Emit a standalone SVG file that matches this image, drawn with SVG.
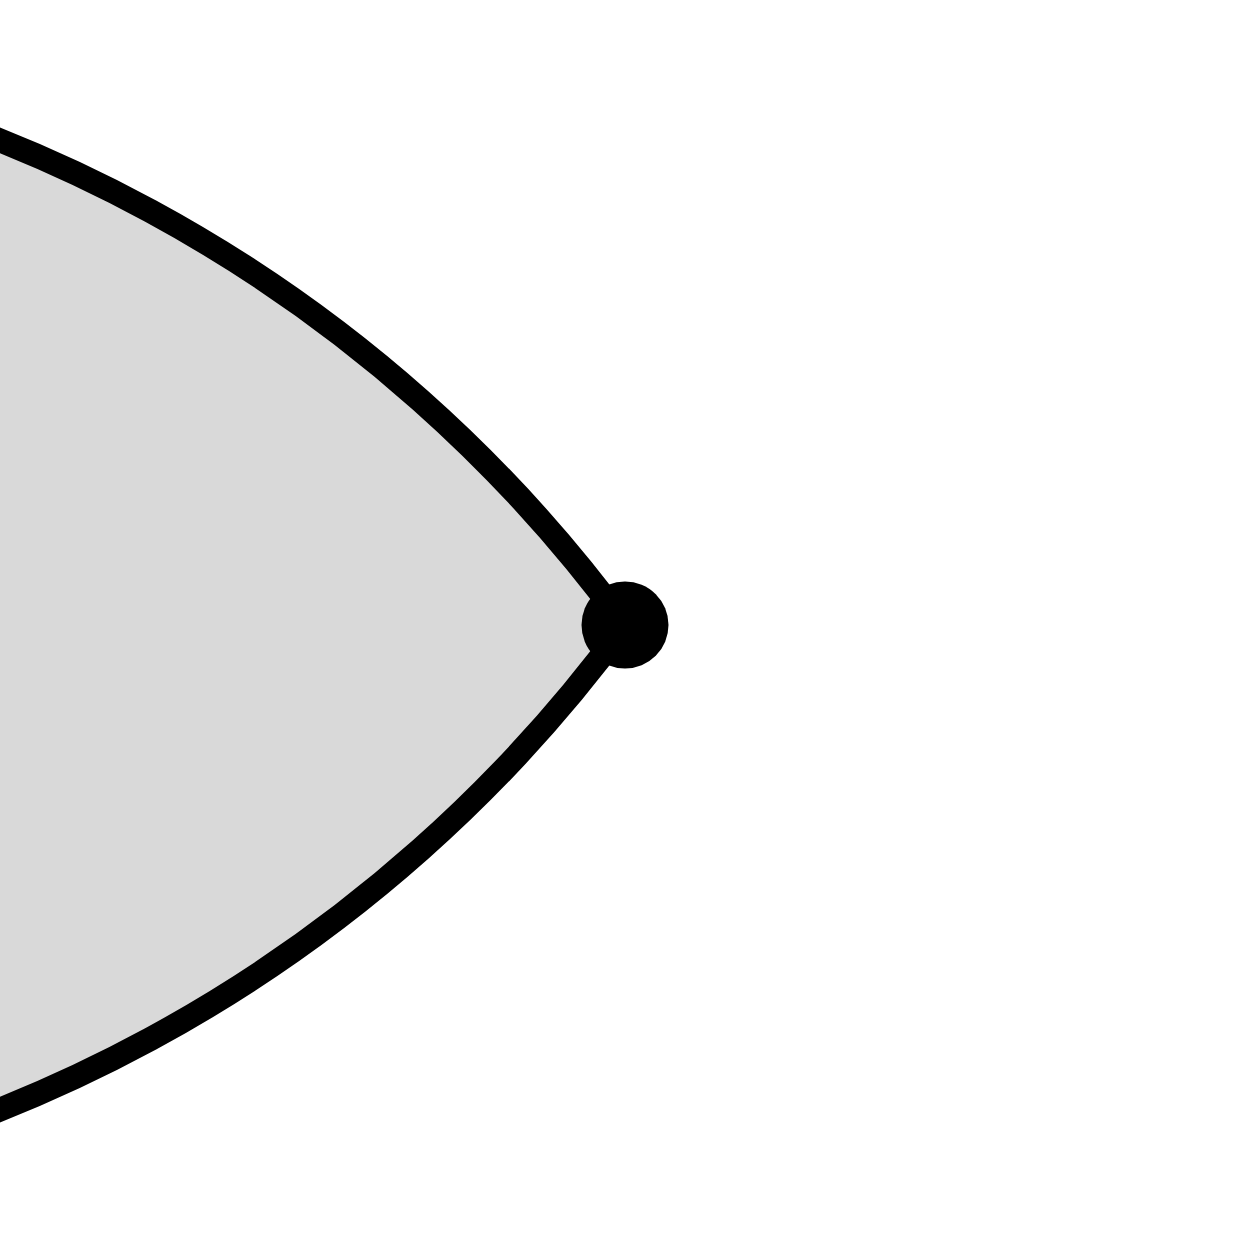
<svg xmlns="http://www.w3.org/2000/svg" width="1250" height="1251" viewBox="0 0 1250 1251">
<style>
.lens{fill:#d9d9d9;stroke:#000;stroke-width:24}
.pt{fill:#000}
</style>
<rect width="1250" height="1251" fill="#fff"/>
<g id="lens">
<path class="lens" d="M -1693 625 A 1437 1437 0 0 1 625 625 A 1437 1437 0 0 1 -1693 625 Z"/>
</g>
<g id="vertex">
<circle class="pt" cx="625" cy="625" r="43.5"/>
</g>
</svg>
